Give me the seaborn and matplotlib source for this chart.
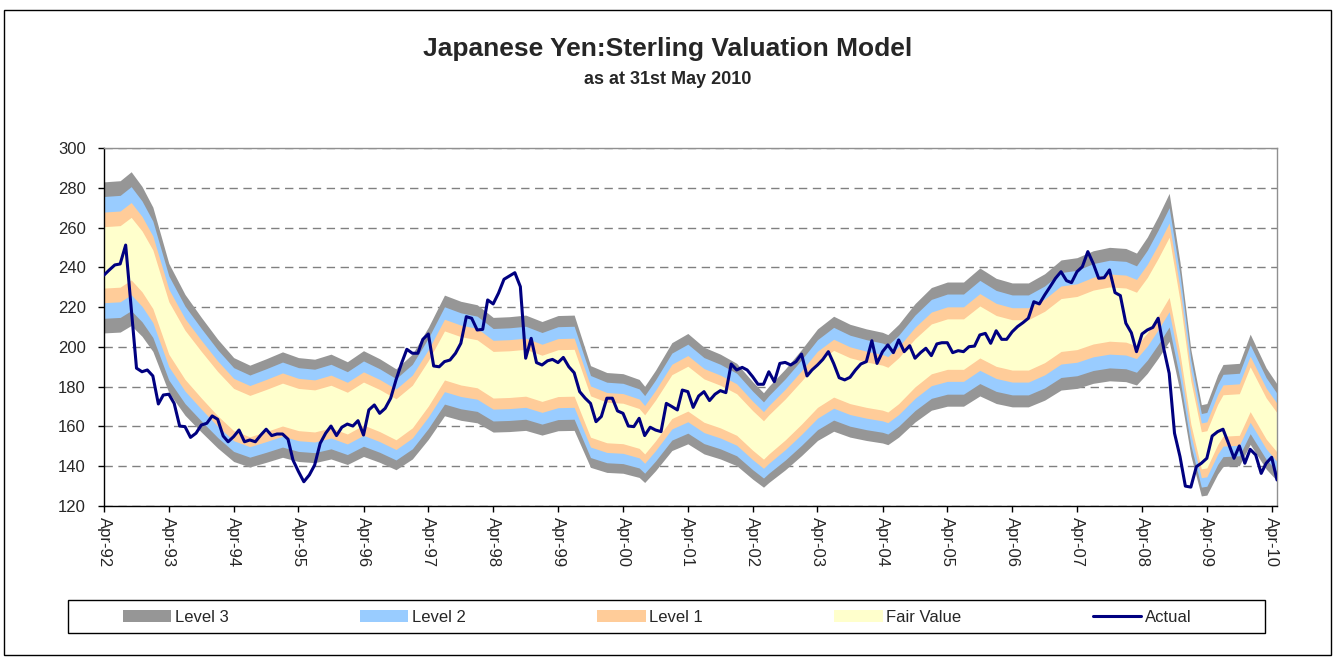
import numpy as np
import pandas as pd
import matplotlib
matplotlib.use("Agg")
import matplotlib.pyplot as plt
import matplotlib.dates as mdates
from matplotlib.patches import Patch, Rectangle
from matplotlib.lines import Line2D
import seaborn as sns

# ---------------- data ----------------
TITLE = "Japanese Yen:Sterling Valuation Model"
SUBTITLE = "as at 31st May 2010"
START, END = "1992-04-01", "2010-05-01"

# Actual monthly JPY/GBP rate, Apr-92 .. May-10
ACTUAL = [
    236.1, 238.7, 241.2, 241.7, 251.2, 220.0, 189.3, 187.5, 188.4, 185.4, 171.3, 175.8,
    176.2, 171.6, 160.2, 159.9, 154.5, 156.6, 160.7, 161.6, 165.3, 163.6, 155.2, 152.3,
    154.9, 158.2, 152.3, 153.2, 152.3, 155.7, 158.6, 155.4, 156.2, 156.2, 153.6, 143.1,
    137.3, 132.2, 135.6, 140.6, 151.5, 156.6, 160.2, 155.4, 159.6, 161.2, 160.2, 162.9,
    155.7, 168.3, 170.8, 166.6, 169.1, 174.2, 183.4, 191.7, 198.8, 196.8, 196.8, 203.8,
    206.5, 190.4, 190.0, 192.6, 193.4, 196.8, 201.8, 215.2, 214.4, 208.5, 208.8, 223.6,
    221.6, 227.0, 234.0, 235.6, 237.3, 230.3, 194.3, 204.3, 192.1, 190.9, 193.0, 193.7,
    192.1, 194.7, 190.0, 187.0, 177.5, 174.2, 171.6, 162.4, 165.0, 174.2, 174.2, 167.8,
    166.6, 160.2, 159.9, 164.1, 155.4, 159.6, 158.2, 157.4, 171.6, 170.0, 168.3, 178.3,
    177.5, 169.6, 175.3, 177.5, 173.0, 176.2, 178.0, 177.0, 191.4, 188.4, 189.7, 188.4,
    185.0, 181.2, 181.2, 187.5, 182.5, 191.7, 192.2, 190.9, 192.6, 196.4, 185.4, 188.4,
    190.9, 193.7, 197.6, 191.7, 184.5, 183.4, 184.7, 188.4, 191.4, 192.6, 203.1, 191.7,
    197.6, 201.0, 197.1, 203.5, 197.6, 200.6, 194.3, 197.1, 199.3, 195.6, 201.5, 202.1,
    202.1, 197.1, 198.1, 197.6, 200.1, 200.4, 206.0, 206.8, 201.8, 208.1, 203.8, 203.8,
    207.6, 210.2, 212.2, 214.4, 222.7, 221.6, 226.1, 230.3, 234.5, 237.8, 233.3, 232.3,
    237.8, 240.3, 247.9, 242.0, 234.5, 234.8, 238.7, 227.3, 225.8, 211.9, 207.1, 197.6,
    206.5, 208.5, 209.8, 214.4, 199.3, 186.7, 156.6, 144.8, 130.0, 129.5, 139.8, 141.5,
    144.0, 155.2, 157.4, 158.6, 151.5, 144.0, 150.2, 141.5, 148.5, 145.7, 136.4, 141.5,
    144.5, 133.1,
]

# Fair value (centre of the bands)
FV_DATES = [
    "1992-04", "1992-07", "1992-09", "1992-11", "1993-01", "1993-04", "1993-07", "1993-10",
    "1994-01", "1994-04", "1994-07", "1994-10", "1995-01", "1995-04", "1995-07", "1995-10",
    "1996-01", "1996-04", "1996-07", "1996-10", "1997-01", "1997-04", "1997-07", "1997-10",
    "1998-01", "1998-04", "1998-07", "1998-10", "1999-01", "1999-04", "1999-07", "1999-10",
    "2000-01", "2000-04", "2000-07", "2000-08", "2000-10", "2001-01", "2001-04", "2001-07",
    "2001-10", "2002-01", "2002-04", "2002-06", "2002-07", "2002-10", "2003-01", "2003-04",
    "2003-07", "2003-10", "2004-01", "2004-04", "2004-05", "2004-07", "2004-10", "2005-01",
    "2005-04", "2005-07", "2005-10", "2006-01", "2006-04", "2006-07", "2006-10", "2007-01",
    "2007-04", "2007-07", "2007-10", "2008-01", "2008-03", "2008-05", "2008-07", "2008-09",
    "2008-11", "2009-01", "2009-03", "2009-04", "2009-06", "2009-07", "2009-10", "2009-12",
    "2010-03", "2010-05",
]
FV_VALUES = [
    245.0, 245.5, 249.4, 243.0, 234.0, 209.5, 196.0, 186.0,
    176.5, 168.5, 165.2, 168.0, 171.0, 168.5, 167.8, 170.0,
    166.7, 171.5, 168.0, 163.6, 170.0, 181.7, 195.7, 193.0,
    191.5, 186.0, 186.3, 187.0, 184.2, 186.8, 187.0, 165.0,
    162.0, 161.5, 159.0, 156.0, 163.0, 175.0, 179.0, 173.0,
    170.0, 166.0, 158.0, 153.2, 156.0, 163.5, 172.0, 181.0,
    186.5, 183.0, 181.0, 179.5, 178.5, 183.0, 192.0, 199.0,
    201.4, 201.4, 207.5, 203.0, 201.0, 201.0, 205.0, 211.0,
    212.0, 215.0, 216.5, 216.0, 214.0, 221.0, 230.0, 240.0,
    210.0, 172.0, 148.0, 148.5, 161.0, 165.5, 166.0, 178.7,
    164.0, 157.0,
]

# Band half-widths around fair value (percent)
BAND_NAMES = ["Level 3", "Level 2", "Level 1", "Fair Value"]
BAND_PCT = [15.5, 12.5, 9.3, 6.3]
BAND_COLORS = ["#969696", "#99CCFF", "#FFCC99", "#FFFFCC"]
ACTUAL_COLOR = "#000080"
Y_TICKS = [120, 140, 160, 180, 200, 220, 240, 260, 280, 300]

# ---------------- figure ----------------
sns.set_style("white")
plt.rcParams["font.family"] = ["Liberation Sans", "DejaVu Sans"]

W, H = 1335, 659
fig = plt.figure(figsize=(W / 100, H / 100), dpi=100)
ax = fig.add_axes([104 / W, 1 - 506 / H, (1277 - 104) / W, (506 - 148) / H])

act_dates = pd.date_range(START, END, freq="MS")
fv_dates = pd.to_datetime(FV_DATES)
fv = np.array(FV_VALUES)

for name, pct, col in zip(BAND_NAMES, BAND_PCT, BAND_COLORS):
    ax.fill_between(fv_dates, fv * (1 - pct / 100), fv * (1 + pct / 100),
                    color=col, linewidth=0, zorder=1)

df = pd.DataFrame({"date": act_dates, "Actual": ACTUAL})
sns.lineplot(data=df, x="date", y="Actual", ax=ax, color=ACTUAL_COLOR,
             linewidth=2.2, zorder=3, legend=False)

ax.set_xlim(pd.Timestamp(START), pd.Timestamp(END))
ax.set_ylim(120, 300)
ax.set_yticks(Y_TICKS)
ax.set_xlabel("")
ax.set_ylabel("")

ax.xaxis.set_major_locator(mdates.MonthLocator(bymonth=4))
ax.xaxis.set_major_formatter(mdates.DateFormatter("%b-%y"))
for lab in ax.get_xticklabels():
    lab.set_rotation(-90)
    lab.set_ha("center")
    lab.set_va("top")

ax.set_axisbelow(True)
ax.yaxis.grid(True, linestyle=(0, (6, 4)), color="#808080", linewidth=1)
ax.xaxis.grid(False)

ax.tick_params(axis="both", direction="out", length=4, width=1, color="black",
               labelsize=12, left=True, bottom=True)
ax.tick_params(axis="y", pad=9)
ax.tick_params(axis="x", pad=4)

for s in ["left", "bottom"]:
    ax.spines[s].set_color("black")
    ax.spines[s].set_linewidth(1)
for s in ["top", "right"]:
    ax.spines[s].set_color("#909090")
    ax.spines[s].set_linewidth(1)

fig.text(0.5, 1 - 49 / H, TITLE, ha="center", va="center",
         fontsize=19, fontweight="bold")
fig.text(0.5, 1 - 80 / H, SUBTITLE, ha="center", va="center",
         fontsize=13, fontweight="bold")

# legend: frame drawn separately, entries placed to match the reference
fig.patches.append(Rectangle((68 / W, 1 - 633 / H), (1265 - 68) / W, 33 / H,
                             transform=fig.transFigure, fill=False,
                             edgecolor="black", linewidth=1))
handles = [Patch(facecolor=c, edgecolor="none") for c in BAND_COLORS]
handles.append(Line2D([0], [0], color=ACTUAL_COLOR, linewidth=2.2))
labels = BAND_NAMES + ["Actual"]
leg = fig.legend(handles, labels, loc="center left", ncol=5,
                 bbox_to_anchor=(123 / W, 1 - 617 / H),
                 frameon=False, fontsize=12,
                 handlelength=2.9, handleheight=0.75, handletextpad=0.2,
                 borderaxespad=0, borderpad=0, columnspacing=7.9)

fig.patches.append(Rectangle((4 / W, 4 / H), (W - 8) / W, (H - 14) / H,
                             transform=fig.transFigure, fill=False,
                             edgecolor="black", linewidth=1))

fig.savefig("out.png", dpi=100, facecolor="white")
